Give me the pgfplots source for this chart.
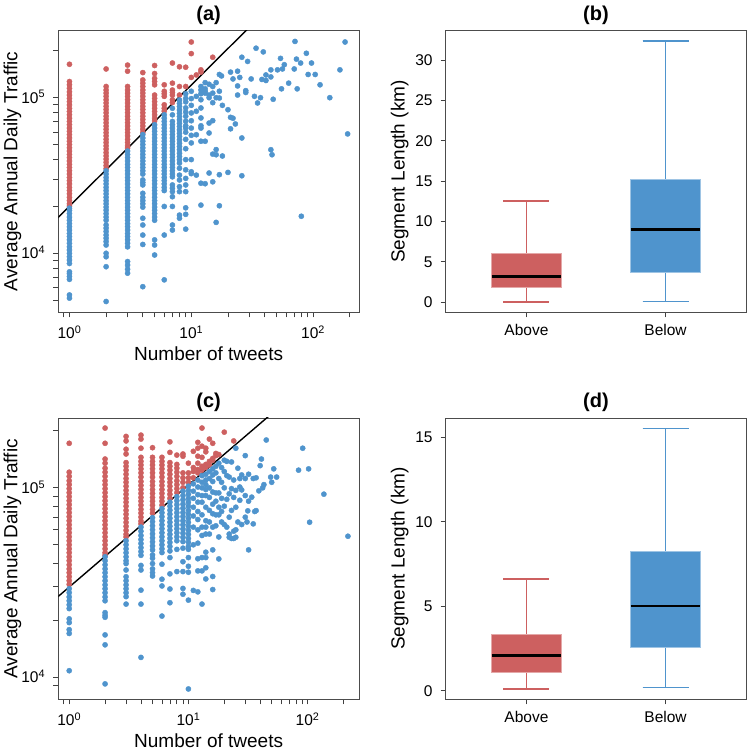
\documentclass[border=0pt]{standalone}
\usepackage{fontspec}
\setmainfont{Liberation Sans}
\usepackage{pgfplots}
\pgfplotsset{compat=1.18}
\usepgfplotslibrary{statistics}
\definecolor{cred}{RGB}{205,96,96}
\definecolor{cblue}{RGB}{79,148,205}
\pgfplotsset{
  base/.style={scale only axis, axis line style={black!70, line width=0.9pt},
    tick style={black!75, line width=0.8pt}, major tick length=5pt, minor tick length=5pt,
    tick align=outside, tick pos=left, clip=true,
    /pgf/number format/assume math mode=true,
    tick label style={font=\fontsize{15.5}{18}\selectfont},
    label style={font=\fontsize{19}{22}\selectfont},
    title style={font=\bfseries\fontsize{20}{24}\selectfont, at={(axis description cs:0.5,1)}, anchor=base, yshift=4.5pt},
    yticklabel style={anchor=base east, inner sep=0pt, xshift=-8pt, yshift=-5.5pt},
    ylabel style={at={(axis description cs:-0.1364,0.5)}, anchor=base},
  },
  scat/.style={base,
    xtick={1,10,100}, xticklabels={10\textsuperscript{0},10\textsuperscript{1},10\textsuperscript{2}},
    minor xtick={0.9,2,3,4,5,6,7,8,9,20,30,40,50,60,70,80,90,200},
    ytick={10000,100000}, yticklabels={10\textsuperscript{4},10\textsuperscript{5}},
    xticklabel style={anchor=base, inner sep=0pt, yshift=-21pt},
    xlabel={Number of tweets}, ylabel={Average Annual Daily Traffic},
    xlabel style={at={(axis description cs:0.5,0)}, anchor=base, yshift=-48.3pt}},
  bx/.style={base, xmin=0.42, xmax=2.58, xtick={1,2}, xticklabels={Above,Below},
    boxplot/draw direction=y,
    xticklabel style={anchor=base, inner sep=0pt, yshift=-17.9pt},
    ylabel={Segment Length (km)}},
  rdot/.style={only marks, mark=*, mark size=2.6pt, color=cred},
  bdot/.style={only marks, mark=*, mark size=2.6pt, color=cblue},
  rbox/.style={draw=cred, fill=cred, line width=1.6pt, boxplot/box extend=0.5, boxplot/whisker extend=0.33,
    boxplot/every median/.style={draw=black, line width=2.7pt},
    boxplot/every whisker/.style={draw=cred, line width=1.6pt},
    boxplot/every box/.style={draw=cred!55!white, line width=0.8pt, fill=cred}},
  bbox/.style={draw=cblue, fill=cblue, line width=1.6pt, boxplot/box extend=0.5, boxplot/whisker extend=0.33,
    boxplot/every median/.style={draw=black, line width=2.7pt},
    boxplot/every whisker/.style={draw=cblue, line width=1.6pt},
    boxplot/every box/.style={draw=cblue!55!white, line width=0.8pt, fill=cblue}},
}
\begin{document}
\begin{tikzpicture}
\useasboundingbox (0pt,0pt) rectangle (750pt,752pt);
% ---------------- (a)
\begin{axis}[xmode=log, ymode=log, scat, at={(58.3pt,439.7pt)}, anchor=south west, width=300.7pt, height=281.6pt,
  xmin=0.81, xmax=238, ymin=4177, ymax=269600, title={(a)},
  minor ytick={5000,6000,7000,8000,9000,20000,30000,40000,50000,60000,70000,80000,90000,200000}]
\addplot[rdot] coordinates {
(1,164000)(1,127000)(1,121000)(1,115000)(1,109000)(1,104000)(1,99000)(1,94300)(1,89800)(1,85500)(1,81500)(1,77600)(1,73900)(1,70400)(1,67000)(1,63800)(1,60800)(1,57900)(1,55100)(1,52500)(1,50000)(1,47600)(1,45400)(1,43200)(1,41200)(1,39200)(1,37300)(1,35600)(1,33900)(1,32300)(1,30700)(1,29300)(1,27900)(1,26500)(1,25300)(1,24100)(1,22900)(1,21800)(1,20800)(1,20100)
(2,153000)(2,118000)(2,112000)(2,107000)(2,102000)(2,97000)(2,92500)(2,88000)(2,84000)(2,80000)(2,76000)(2,72500)(2,69000)(2,65700)(2,62600)(2,59600)(2,56800)(2,54000)(2,51500)(2,49000)(2,46700)(2,44400)(2,42300)(2,40300)(2,38400)(2,36600)(2,35000)
(3,162000)(3,148000)(3,118000)(3,112000)(3,107000)(3,102000)(3,97000)(3,92500)(3,88000)(3,84000)(3,80000)(3,76000)(3,72500)(3,69000)(3,65700)(3,62600)(3,59600)(3,56800)(3,54000)(3,51500)(3,49000)(3,47500)
(4,145000)(4,130000)(4,124000)(4,118000)(4,112000)(4,107000)(4,102000)(4,97000)(4,92500)(4,88000)(4,84000)(4,80000)(4,76000)(4,72500)(4,69000)(4,65700)(4,62600)(4,59600)
(5,161000)(5,143000)(5,133000)(5,127000)(5,121000)(5,104000)(5,99000)(5,94300)(5,89800)(5,85500)(5,81500)(5,77600)(5,73900)(5,71000)
(6,121000)(6,110000)(6,106000)(6,102000)(6,90000)(6,85500)(6,82000)
(7,167000)(7,124000)(7,112000)(7,108000)(7,104000)(7,97000)(7,93000)
(8,158000)(8,118000)(8,104000)(9,157000)(9,118000)
(10,228000)(10,192000)(10,135000)(11,140000)(12,151000)(12,146000)(15,182000)
};
\addplot[bdot] coordinates {
(1,19500)(1,18900)(1,18000)(1,17100)(1,16300)(1,15500)(1,14800)(1,14100)(1,13400)(1,12800)(1,12200)(1,11600)(1,11000)(1,10500)(1,10000)(1,9500)(1,9050)(1,8600)(1,7600)(1,7400)(1,7100)(1,6800)(1,5400)(1,5150)
(2,33900)(2,32300)(2,30700)(2,29300)(2,27900)(2,26500)(2,25300)(2,24100)(2,22900)(2,21800)(2,20800)(2,19800)(2,18900)(2,18000)(2,17100)(2,16300)(2,15200)(2,14500)(2,13800)(2,13100)(2,12500)(2,11900)(2,11300)(2,10000)(2,9500)(2,8200)(2,4900)
(3,45400)(3,43200)(3,41200)(3,39200)(3,37300)(3,35600)(3,33900)(3,32300)(3,30700)(3,29300)(3,27900)(3,26500)(3,25300)(3,24100)(3,22900)(3,21800)(3,20800)(3,19800)(3,18900)(3,18000)(3,17100)(3,16300)(3,15500)(3,14800)(3,14100)(3,13400)(3,12800)(3,12200)(3,11600)(3,11000)(3,8850)(3,8400)(3,7900)(3,7450)
(4,57900)(4,55100)(4,52500)(4,50000)(4,47600)(4,45400)(4,43200)(4,41200)(4,39200)(4,37300)(4,35600)(4,33900)(4,32300)(4,29600)(4,28500)(4,27500)(4,24300)(4,22900)(4,21800)(4,20800)(4,19800)(4,16800)(4,15200)(4,13100)(4,11400)(4,6100)
(5,67000)(5,63800)(5,60800)(5,57900)(5,55100)(5,52500)(5,50000)(5,47600)(5,45400)(5,43200)(5,41200)(5,39200)(5,37300)(5,35600)(5,33900)(5,32300)(5,30700)(5,29300)(5,27900)(5,26500)(5,25300)(5,24100)(5,22900)(5,21800)(5,20800)(5,19800)(5,18900)(5,18000)(5,17100)(5,16300)(5,12200)(5,11300)(5,9750)
(6,77600)(6,73900)(6,70400)(6,67000)(6,63800)(6,60800)(6,57900)(6,55100)(6,52500)(6,50000)(6,47600)(6,45400)(6,43200)(6,41200)(6,39200)(6,37300)(6,35600)(6,33900)(6,32300)(6,30700)(6,29300)(6,27900)(6,26500)(6,25300)(6,20000)(6,13100)(6,6750)
(7,85500)(7,77600)(7,70400)(7,67000)(7,63800)(7,60800)(7,57900)(7,55100)(7,52500)(7,50000)(7,47600)(7,45400)(7,43200)(7,41200)(7,39200)(7,37300)(7,35600)(7,33900)(7,32300)(7,31000)(7,27500)(7,26200)(7,24900)(7,23100)(7,20000)(7,15200)(7,14100)
(8,96600)(8,92000)(8,87600)(8,83400)(8,79400)(8,75600)(8,72000)(8,68500)(8,65200)(8,62100)(8,59100)(8,56300)(8,53600)(8,51000)(8,48600)(8,46300)(8,44000)(8,41900)(8,39900)(8,38000)(8,35200)(8,31800)(8,29600)(8,26800)(8,24900)(8,17600)(8,16800)
(9,106000)(9,99000)(9,94000)(9,86000)(9,81000)(9,76000)(9,70500)(9,66000)(9,63800)(9,60000)(9,54000)(9,47000)(9,40000)(9,34400)(9,30300)(9,27500)(9,24900)(9,19600)(9,17800)(9,14300)
(10,110000)(10,98600)(10,89300)(10,79800)(10,71100)(10,63800)(10,57300)(10,51200)(10,40000)(10,33400)(10,32500)
(11,102000)(12,112000)(12,97000)(12,85900)(11,81800)(12,74100)(12,63800)(11,57800)(12,52500)(11,31800)(12,28200)(12,20400)(12,118000)(12,106000)(13,110000)(14,104000)
(14,122000)(15,118000)(16,125000)(17,110000)(13,125000)
(17.7,138000)(17,141000)(21,146000)(22,132000)(24,148000)(25,135000)(24,119000)(24,104000)(28,111000)(28,108000)(31,132000)(26,182000)(29,171000)(34,208000)(39,197000)(71,230000)(183,228000)(88,193000)(73,177000)(79,167000)(97,167000)(54,179000)(58,163000)(56,153000)(51,151000)(45,151000)(45,136000)(41,140000)(38,131000)(41,129000)(70,153000)(91,141000)(104,141000)(166,151000)(114,121000)(63,124000)(55,114000)(74,114000)(137,100000)(192,58500)(47,97700)(33,102000)(35,92500)(37,100000)
(26,55100)(45,46300)(46,43000)(21,74800)(22,73800)(23,67800)(20,83700)(21,63100)(18,89300)(17,99500)(15,92900)(16,100000)(14,100000)(13,107000)(13,114000)(15,107000)(14,68700)(15,71200)(12,66000)(13,52500)(14,59300)(16,46400)(15,43400)(16,43000)(18,42200)(14,32800)(17,32000)(20,33100)(26,31500)(13,28000)(15,28800)(17,20200)(16,15800)(80,17300)
};
\addplot[black, line width=1.4pt] coordinates {(0.6,13500) (60,487000)};
\end{axis}
% ---------------- (b)
\begin{axis}[bx, at={(445.7pt,439.7pt)}, anchor=south west, width=300.6pt, height=281.6pt,
  ymin=-1.24, ymax=33.62, ytick={0,5,10,15,20,25,30}, title={(b)}]
\addplot[rbox, boxplot prepared={draw position=1,
  lower whisker=0.05, lower quartile=1.86, median=3.22, upper quartile=6.1, upper whisker=12.54}] coordinates {};
\addplot[bbox, boxplot prepared={draw position=2,
  lower whisker=0.1, lower quartile=3.75, median=9.03, upper quartile=15.26, upper whisker=32.35}] coordinates {};
\end{axis}
% ---------------- (c)
\begin{axis}[xmode=log, ymode=log, scat, at={(58.3pt,52.5pt)}, anchor=south west, width=300.7pt, height=281.5pt,
  xmin=0.81, xmax=270, ymin=7610, ymax=234000, title={(c)},
  minor ytick={9000,20000,30000,40000,50000,60000,70000,80000,90000,200000}]
\addplot[rdot] coordinates {
(1,172000)(1,121000)(1,115000)(1,109000)(1,104000)(1,99000)(1,94300)(1,89800)(1,85500)(1,81500)(1,77600)(1,73900)(1,70400)(1,67000)(1,63800)(1,60800)(1,57900)(1,55100)(1,52500)(1,50000)(1,47600)(1,45400)(1,43200)(1,41200)(1,39200)(1,37300)(1,35600)(1,33900)(1,32300)(1,30900)
(2,207000)(2,172000)(2,142000)(2,135000)(2,127000)(2,121000)(2,115000)(2,109000)(2,104000)(2,99000)(2,94300)(2,89800)(2,85500)(2,81500)(2,77600)(2,73900)(2,70400)(2,67000)(2,63800)(2,60800)(2,57900)(2,55100)(2,52500)(2,50000)(2,47600)(2,45400)(2,44000)
(3,187000)(3,177000)(3,160000)(3,151000)(3,136000)(3,130000)(3,124000)(3,118000)(3,112000)(3,107000)(3,102000)(3,97000)(3,92500)(3,88000)(3,84000)(3,80000)(3,76000)(3,72500)(3,69000)(3,65700)(3,62600)(3,59600)(3,56800)(3,55000)
(4,190000)(4,181000)(4,162000)(4,145000)(4,138000)(4,132000)(4,126000)(4,120000)(4,114000)(4,108000)(4,103000)(4,98000)(4,93500)(4,89000)(4,85000)(4,81000)(4,77000)(4,73500)(4,70000)(4,66700)(4,64500)
(5,163000)(5,145000)(5,138000)(5,132000)(5,126000)(5,120000)(5,114000)(5,108000)(5,103000)(5,98000)(5,93500)(5,89000)(5,85000)(5,81000)(5,77000)(5,73500)
(6,145000)(6,138000)(6,132000)(6,126000)(6,120000)(6,114000)(6,108000)(6,103000)(6,98000)(6,93500)(6,89000)(6,85000)(6,81000)
(7,175000)(7,154000)(7,136000)(7,130000)(7,124000)(7,118000)(7,112000)(7,107000)(7,102000)(7,97000)(7,92500)(7,88000)
(8,149000)(8,133000)(8,127000)(8,121000)(8,115000)(8,109000)(8,104000)(8,99000)(8,94300)
(9,151000)(9,147000)(9,120000)(9,113000)(9,107000)(9,100000)
(10,135000)(10,120000)(10,113000)(10,107000)
(11,156000)(11,128000)(11,122000)(11,113000)
(12,174000)(12,162000)(12,147000)(12,135000)(12,125000)(12,120000)
(13,207000)(13,166000)(13,145000)(13,130000)(13,124000)
(14,162000)(14,155000)(14,133000)(14,128000)
(15,181000)(15,138000)(15,132000)(16,172000)(16,143000)(16,140000)
(17,152000)(17,148000)(18,150000)(20,197000)(24,177000)
};
\addplot[bdot] coordinates {
(1,29300)(1,27900)(1,26500)(1,25300)(1,24100)(1,23000)(1,20300)(1,19400)(1,17800)(1,17000)(1,10800)
(2,43200)(2,41200)(2,39200)(2,37300)(2,35600)(2,33900)(2,32300)(2,30700)(2,29300)(2,27900)(2,26500)(2,25300)(2,21900)(2,21200)(2,20700)(2,16700)(2,14800)(2,9200)
(3,52500)(3,50000)(3,47600)(3,45400)(3,43200)(3,41200)(3,39800)(3,36800)(3,33900)(3,32300)(3,30700)(3,29300)(3,27900)(3,26600)(3,24300)
(4,62000)(4,59000)(4,56000)(4,53300)(4,50800)(4,48300)(4,46000)(4,44000)(4,38900)(4,36800)(4,28800)(4,24300)(4,12700)
(5,69500)(5,66200)(5,63000)(5,60000)(5,57100)(5,54400)(5,51800)(5,49300)(5,47000)(5,44200)(5,42500)(5,39800)(5,37300)(5,35600)(5,34200)
(6,77600)(6,73900)(6,70400)(6,67000)(6,63800)(6,60800)(6,57900)(6,55100)(6,52500)(6,50000)(6,47600)(6,45500)(6,39500)(6,32900)(6,30300)(6,21000)
(7,84000)(7,80000)(7,76200)(7,72600)(7,69100)(7,65800)(7,62700)(7,59700)(7,56800)(7,54100)(7,51500)(7,49000)(7,46400)(7,42800)(7,35100)(7,29200)(7,24700)
(8,89800)(8,85500)(8,81500)(8,77600)(8,73900)(8,70400)(8,67000)(8,63800)(8,60800)(8,57900)(8,55100)(8,52500)(8,47300)(8,36100)
(9,96000)(9,91000)(9,86500)(9,82000)(9,78000)(9,74000)(9,70500)(9,67000)(9,63800)(9,60600)(9,57600)(9,54800)(9,52000)(9,48000)(9,40700)(9,36100)(9,29400)(9,27400)
(10,102000)(10,97000)(10,92500)(10,88000)(10,84000)(10,80000)(10,76000)(10,72500)(10,69000)(10,65700)(10,62600)(10,59600)(10,56800)(10,54000)(10,51500)(10,49000)(10,47300)(10,42800)(10,38500)(10,35800)(10,25500)(10,8650)
(11,105000)(11,96000)(11,88000)(11,79000)(11,71000)(11,62000)(11,50000)(11,28700)
(12,110000)(12,101000)(12,92000)(12,84000)(12,75000)(12,68000)(12,60000)(12,51000)(12,42200)(12,36400)(12,28200)
(13,116000)(13,107000)(13,100000)(13,91000)(13,84000)(13,72000)(13,62000)(13,56000)(13,42800)(13,36400)(13,24300)
(14,118000)(14,110000)(14,104000)(14,98000)(14,91000)(14,79000)(14,67000)(14,62000)(14,57000)(14,45700)(14,42800)(14,37800)(14,33000)
(15,122000)(15,112000)(15,100000)(15,89000)(15,76000)(15,66000)(15,57000)
(16,126000)(16,117000)(16,108000)(16,95000)(16,82000)(16,73000)(16,62000)(16,47000)(16,34000)(16,29000)
(17,130000)(17,120000)(17,94000)(17,85000)(17,72000)(17,63000)
(18,135000)(18,112000)(18,94000)(18,79000)(18,72000)(18,55000)(18,42100)
(19,128000)(19,107000)(19,88000)(19,75000)(19,66000)
(20,140000)(20,122000)(20,100000)(20,80000)(20,64000)
(21,138000)(21,116000)(21,87000)(21,62000)
(22,114000)(22,93000)(22,70000)(22,57000)(22,54800)
(23,137000)(23,99000)(23,76000)(23,54000)
(24,110000)(24,89000)(24,59000)(24,54000)
(25,162000)(25,97000)(25,79000)(25,60000)(25,54800)
(26,127000)(26,66000)(27,112000)(27,101000)(27,86000)
(28,97500)(28,117000)(28,64000)(30,91000)(30,70000)(30,112000)(30,148000)
(31.5,75600)(32,118000)(32,47000)(32,85000)(31,66000)
(34,89300)(35,112000)(35,64500)(36,75000)(37,113000)(37,75800)
(39,96400)(40,131000)(41,142000)(42,100000)(43,104000)
(45,179000)(49,114000)(50,107000)(52,126000)(55,114000)
(84,124000)(91,162000)(102,126000)(104,65800)(137,92600)(218,55500)
};
\addplot[black, line width=1.4pt] coordinates {(0.6,22700) (80,318000)};
\end{axis}
% ---------------- (d)
\begin{axis}[bx, at={(445.7pt,52.7pt)}, anchor=south west, width=300.6pt, height=281.3pt,
  ymin=-0.51, ymax=16.13, ytick={0,5,10,15}, title={(d)}]
\addplot[rbox, boxplot prepared={draw position=1,
  lower whisker=0.1, lower quartile=1.10, median=2.09, upper quartile=3.31, upper whisker=6.62}] coordinates {};
\addplot[bbox, boxplot prepared={draw position=2,
  lower whisker=0.18, lower quartile=2.58, median=5.01, upper quartile=8.22, upper whisker=15.51}] coordinates {};
\end{axis}
\end{tikzpicture}
\end{document}
